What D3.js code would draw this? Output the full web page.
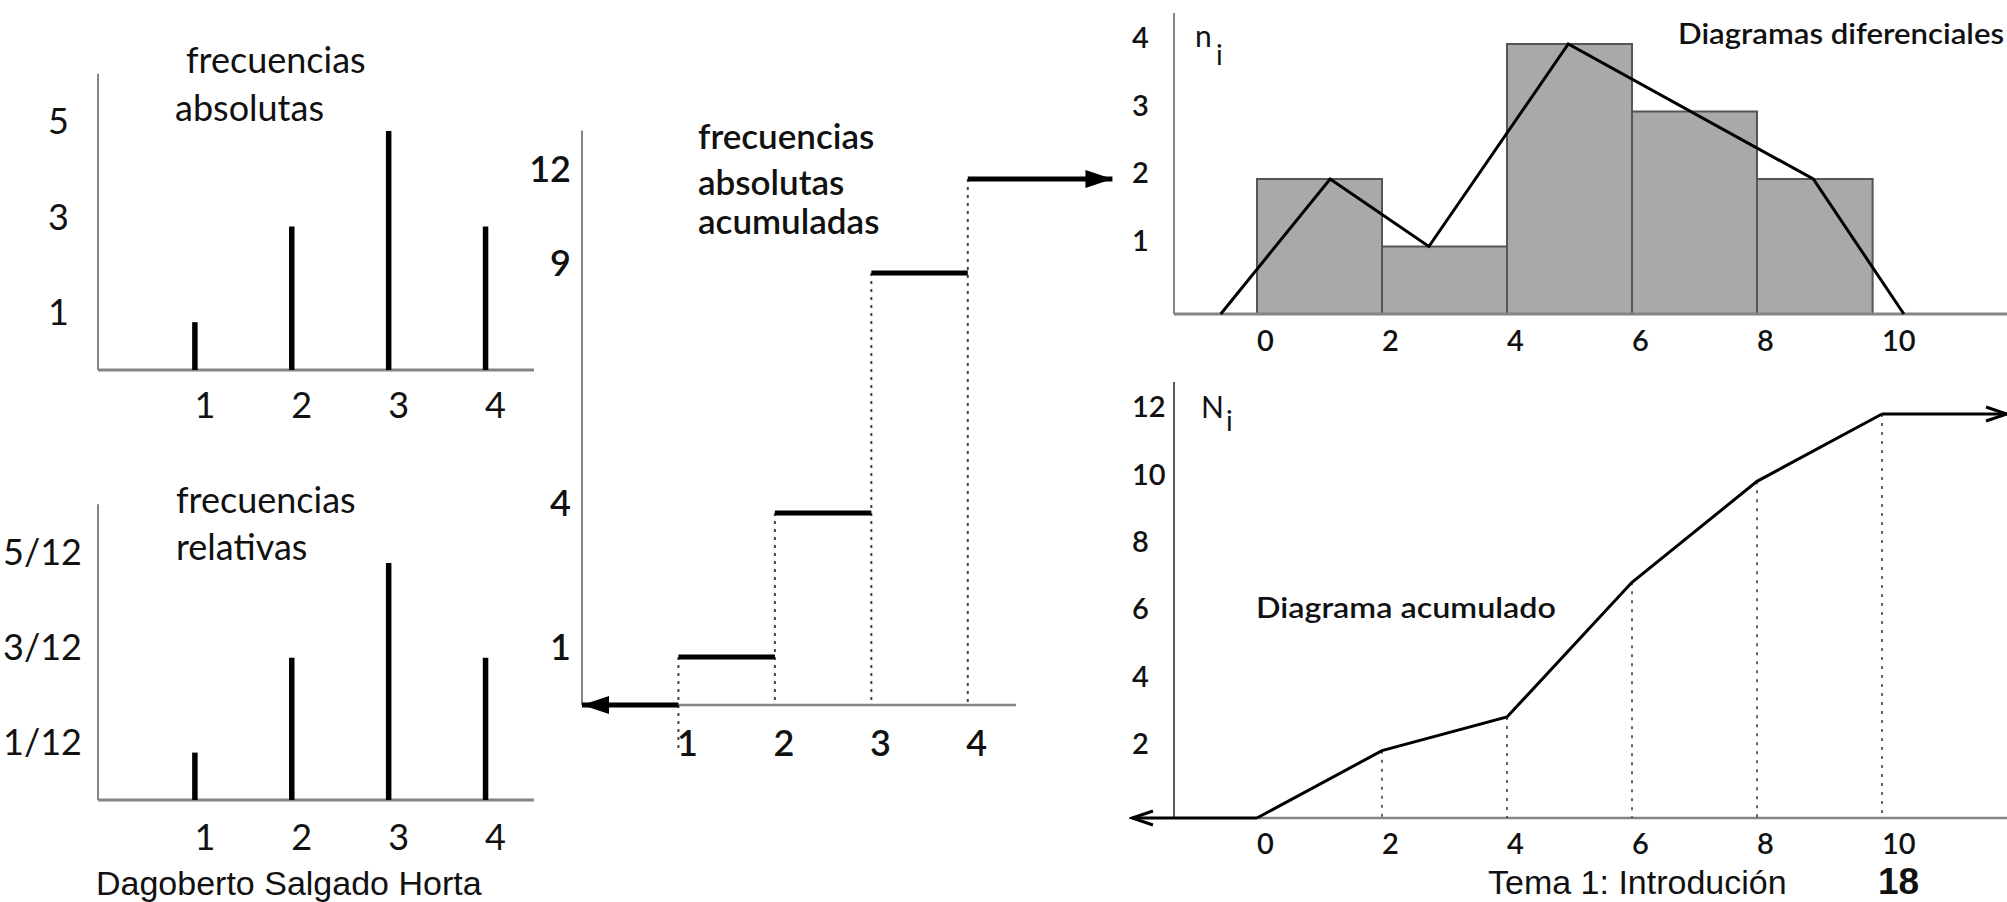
<!DOCTYPE html>
<html><head><meta charset="utf-8">
<script src="https://cdn.jsdelivr.net/npm/d3@7"></script>
<style>
html,body{margin:0;padding:0;background:#fff;}
svg{display:block;}
text{font-family:Lato,"Open Sans",sans-serif;fill:#111;}
</style></head><body>
<svg id="chart" width="2007" height="902"></svg>
<script>
// ---------- data ----------
const classes = [1, 2, 3, 4];
const absFreq = [1, 3, 5, 3];
const relFreq = [1/12, 3/12, 5/12, 3/12];
const cumFreq = [1, 4, 9, 12];
const absTicks = [5, 3, 1];
const relTicks = [5/12, 3/12, 1/12];
const relTickLabels = ["5/12", "3/12", "1/12"];
const cumTicks = [12, 9, 4, 1];

const binEdges = [0, 2, 4, 6, 8, 9.85];
const binCounts = [2, 1, 4, 3, 2];
const polyX = [-0.58, 1.17, 2.75, 4.98, 8.9, 10.35];
const polyY = [0, 2, 1, 4, 2, 0];
const histXTicks = [0, 2, 4, 6, 8, 10];
const histYTicks = [1, 2, 3, 4];

const cumX = [0, 2, 4, 6, 8, 10];
const cumN = [0, 2, 3, 7, 10, 12];
const cumYTicks = [2, 4, 6, 8, 10, 12];

const svg = d3.select("#chart");
const AXIS = "#858585";

// markers
const defs = svg.append("defs");
defs.append("marker").attr("id", "tri").attr("markerUnits", "userSpaceOnUse")
  .attr("viewBox", "0 -10 28 20").attr("refX", 27).attr("refY", 0)
  .attr("markerWidth", 28).attr("markerHeight", 20).attr("orient", "auto")
  .append("path").attr("d", "M0,-9L27,0L0,9Z").attr("fill", "#000");
defs.append("marker").attr("id", "chev").attr("markerUnits", "userSpaceOnUse")
  .attr("viewBox", "-2 -10 28 20").attr("refX", 23).attr("refY", 0)
  .attr("markerWidth", 28).attr("markerHeight", 20).attr("orient", "auto")
  .append("path").attr("d", "M2,-7L23,0L2,7").attr("fill", "none")
  .attr("stroke", "#000").attr("stroke-width", 3);

function vline(g, x, y1, y2, color, w) {
  g.append("line").attr("x1", x).attr("x2", x).attr("y1", y1).attr("y2", y2)
    .attr("stroke", color).attr("stroke-width", w);
}
function hline(g, x1, x2, y, color, w) {
  g.append("line").attr("x1", x1).attr("x2", x2).attr("y1", y).attr("y2", y)
    .attr("stroke", color).attr("stroke-width", w);
}

// ---------- Panel A: frecuencias absolutas ----------
{
  const g = svg.append("g");
  const x = d3.scaleLinear().domain([0, 4.5]).range([98, 534]);
  const y = d3.scaleLinear().domain([0, 5]).range([370, 131]);
  vline(g, x(0), y(6.2), y(0), AXIS, 2);
  hline(g, x(0), x(4.5), y(0), AXIS, 3);
  g.selectAll(".bar").data(classes).join("line")
    .attr("x1", d => x(d)).attr("x2", d => x(d))
    .attr("y1", y(0)).attr("y2", (d, i) => y(absFreq[i]))
    .attr("stroke", "#000").attr("stroke-width", 5.5);
  g.selectAll(".yl").data(absTicks).join("text")
    .attr("x", 69).attr("y", d => y(d) - 10).attr("dy", "0.36em")
    .attr("text-anchor", "end").attr("font-size", 36).text(d => d);
  g.selectAll(".xl").data(classes).join("text")
    .attr("x", d => x(d) + 10).attr("y", y(0) + 35).attr("dy", "0.36em")
    .attr("text-anchor", "middle").attr("font-size", 36).text(d => d);
  g.append("text").attr("x", 186).attr("y", 73).attr("font-size", 36).text("frecuencias");
  g.append("text").attr("x", 175).attr("y", 121).attr("font-size", 36).text("absolutas");
}

// ---------- Panel B: frecuencias relativas ----------
{
  const g = svg.append("g");
  const x = d3.scaleLinear().domain([0, 4.5]).range([98, 534]);
  const y = d3.scaleLinear().domain([0, 5/12]).range([800, 563]);
  vline(g, x(0), y(0.52), y(0), AXIS, 2);
  hline(g, x(0), x(4.5), y(0), AXIS, 3);
  g.selectAll(".bar").data(classes).join("line")
    .attr("x1", d => x(d)).attr("x2", d => x(d))
    .attr("y1", y(0)).attr("y2", (d, i) => y(relFreq[i]))
    .attr("stroke", "#000").attr("stroke-width", 5.5);
  g.selectAll(".yl").data(relTicks).join("text")
    .attr("x", 82).attr("y", d => y(d) - 11).attr("dy", "0.36em")
    .attr("text-anchor", "end").attr("font-size", 36).text((d, i) => relTickLabels[i]);
  g.selectAll(".xl").data(classes).join("text")
    .attr("x", d => x(d) + 10).attr("y", y(0) + 37).attr("dy", "0.36em")
    .attr("text-anchor", "middle").attr("font-size", 36).text(d => d);
  g.append("text").attr("x", 176).attr("y", 513).attr("font-size", 36).text("frecuencias");
  g.append("text").attr("x", 176).attr("y", 560).attr("font-size", 36).text("relativas");
}

// ---------- Panel C: frecuencias absolutas acumuladas ----------
{
  const g = svg.append("g");
  const x = d3.scaleLinear().domain([0, 4.5]).range([582, 1016]);
  const y = d3.scaleLinear().domain([0, 9, 12]).range([705, 273, 179]);
  vline(g, x(0), y(13.55), y(0), AXIS, 2);
  hline(g, x(1), x(4.5), y(0), AXIS, 2.5);
  g.selectAll(".dot").data(classes).join("line")
    .attr("x1", d => x(d)).attr("x2", d => x(d))
    .attr("y1", (d, i) => y(cumFreq[i]))
    .attr("y2", (d, i) => i === 0 ? y(0) + 48 : y(0))
    .attr("stroke", "#444").attr("stroke-width", 2).attr("stroke-dasharray", "3,5");
  const stepEnds = classes.slice(1).concat([5.5]);
  g.selectAll(".step").data(classes).join("line")
    .attr("x1", d => x(d)).attr("x2", (d, i) => x(stepEnds[i]))
    .attr("y1", (d, i) => y(cumFreq[i])).attr("y2", (d, i) => y(cumFreq[i]))
    .attr("stroke", "#000").attr("stroke-width", 5)
    .attr("marker-end", (d, i) => i === classes.length - 1 ? "url(#tri)" : null);
  g.append("line").attr("x1", x(1)).attr("x2", x(0)).attr("y1", y(0)).attr("y2", y(0))
    .attr("stroke", "#000").attr("stroke-width", 5).attr("marker-end", "url(#tri)");
  g.selectAll(".yl").data(cumTicks).join("text")
    .attr("x", 571).attr("y", d => y(d) - 10).attr("dy", "0.36em")
    .attr("text-anchor", "end").attr("font-size", 36).attr("font-weight", 600).text(d => d);
  g.selectAll(".xl").data(classes).join("text")
    .attr("x", d => x(d) + 9).attr("y", y(0) + 38).attr("dy", "0.36em")
    .attr("text-anchor", "middle").attr("font-size", 36).attr("font-weight", 600).text(d => d);
  g.append("text").attr("x", 698).attr("y", 149).attr("font-size", 35).attr("font-weight", 600).text("frecuencias");
  g.append("text").attr("x", 698).attr("y", 195).attr("font-size", 35).attr("font-weight", 600).text("absolutas");
  g.append("text").attr("x", 698).attr("y", 234).attr("font-size", 35).attr("font-weight", 600).text("acumuladas");
}

// ---------- Panel D: Diagramas diferenciales ----------
{
  const g = svg.append("g");
  const x = d3.scaleLinear().domain([0, 10]).range([1257, 1882]);
  const y = d3.scaleLinear().domain([0, 4]).range([314, 44]);
  vline(g, 1174, 13, y(0), AXIS, 2);
  g.selectAll(".bin").data(binCounts).join("rect")
    .attr("x", (d, i) => x(binEdges[i]))
    .attr("width", (d, i) => x(binEdges[i + 1]) - x(binEdges[i]))
    .attr("y", d => y(d)).attr("height", d => y(0) - y(d))
    .attr("fill", "#a9a9a9").attr("stroke", "#555").attr("stroke-width", 2);
  hline(g, 1174, 2007, y(0), AXIS, 3);
  const line = d3.line().x(d => x(d[0])).y(d => y(d[1]));
  g.append("path").datum(polyX.map((v, i) => [v, polyY[i]])).attr("d", line)
    .attr("fill", "none").attr("stroke", "#000").attr("stroke-width", 3);
  g.selectAll(".yl").data(histYTicks).join("text")
    .attr("x", 1132).attr("y", d => y(d) - 6).attr("dy", "0.36em")
    .attr("font-size", 29).attr("font-weight", 600).text(d => d);
  g.selectAll(".xl").data(histXTicks).join("text")
    .attr("x", d => x(d)).attr("y", y(0) + 27).attr("dy", "0.36em")
    .attr("font-size", 29).attr("font-weight", 600).text(d => d);
  g.append("text").attr("x", 1195).attr("y", 47).attr("font-size", 30).text("n");
  g.append("text").attr("x", 1216).attr("y", 65).attr("font-size", 28).text("i");
  g.append("text").attr("x", 1678).attr("y", 44).attr("font-size", 28).attr("font-weight", 600)
    .attr("textLength", 326).attr("lengthAdjust", "spacingAndGlyphs").text("Diagramas diferenciales");
}

// ---------- Panel E: Diagrama acumulado ----------
{
  const g = svg.append("g");
  const x = d3.scaleLinear().domain([0, 10]).range([1257, 1882]);
  const y = d3.scaleLinear().domain([0, 12]).range([818, 414]);
  vline(g, 1174, 382, y(0), "#222", 1.5);
  hline(g, x(0), 2007, y(0), AXIS, 2.5);
  g.selectAll(".dot").data(cumX.slice(1)).join("line")
    .attr("x1", d => x(d)).attr("x2", d => x(d))
    .attr("y1", (d, i) => y(cumN[i + 1])).attr("y2", y(0))
    .attr("stroke", "#333").attr("stroke-width", 1.5).attr("stroke-dasharray", "3,6");
  const line = d3.line().x(d => x(d[0])).y(d => y(d[1]));
  g.append("path").datum(cumX.map((v, i) => [v, cumN[i]])).attr("d", line)
    .attr("fill", "none").attr("stroke", "#000").attr("stroke-width", 3);
  g.append("line").attr("x1", x(10)).attr("x2", x(12)).attr("y1", y(12)).attr("y2", y(12))
    .attr("stroke", "#000").attr("stroke-width", 3).attr("marker-end", "url(#chev)");
  g.append("line").attr("x1", x(0)).attr("x2", x(-2)).attr("y1", y(0)).attr("y2", y(0))
    .attr("stroke", "#000").attr("stroke-width", 3).attr("marker-end", "url(#chev)");
  g.selectAll(".yl").data(cumYTicks).join("text")
    .attr("x", 1132).attr("y", d => y(d) - 7).attr("dy", "0.36em")
    .attr("font-size", 29).attr("font-weight", 600).text(d => d);
  g.selectAll(".xl").data(cumX).join("text")
    .attr("x", d => x(d)).attr("y", y(0) + 26).attr("dy", "0.36em")
    .attr("font-size", 29).attr("font-weight", 600).text(d => d);
  g.append("text").attr("x", 1201).attr("y", 418).attr("font-size", 30).text("N");
  g.append("text").attr("x", 1226).attr("y", 431).attr("font-size", 28).text("i");
  g.append("text").attr("x", 1256).attr("y", 618).attr("font-size", 28).attr("font-weight", 600)
    .attr("textLength", 300).attr("lengthAdjust", "spacingAndGlyphs").text("Diagrama acumulado");
}

// ---------- footer ----------
svg.append("text").attr("x", 96).attr("y", 895).style("font-family", "'Liberation Sans',Arial,sans-serif")
  .attr("font-size", 34).text("Dagoberto Salgado Horta");
svg.append("text").attr("x", 1488).attr("y", 894).style("font-family", "'Liberation Sans',Arial,sans-serif")
  .attr("font-size", 34).text("Tema 1: Introdución");
svg.append("text").attr("x", 1878).attr("y", 894).style("font-family", "'Liberation Sans',Arial,sans-serif")
  .attr("font-size", 37).attr("font-weight", "bold").text("18");
</script>
</body></html>
